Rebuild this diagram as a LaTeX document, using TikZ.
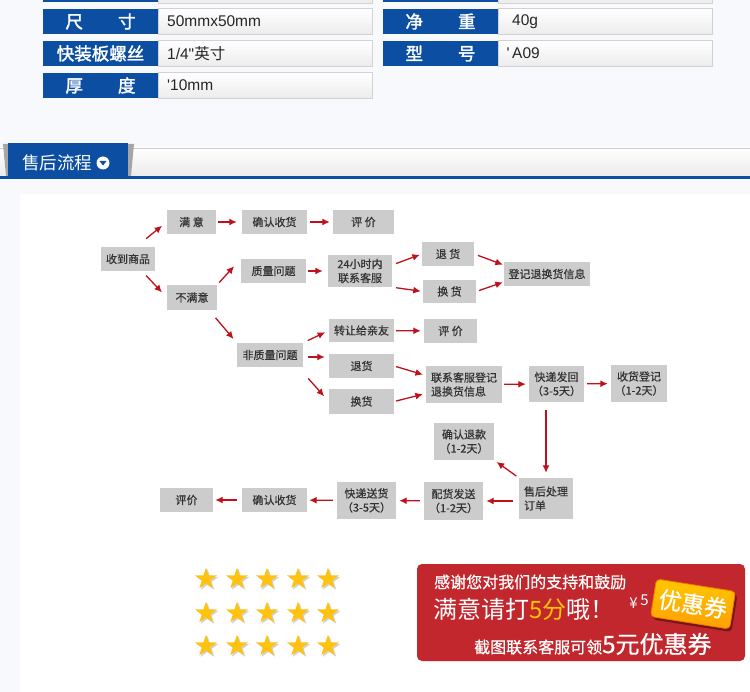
\documentclass[tikz,border=0pt]{standalone}
\usepackage{fontspec}
\setmainfont{Noto Sans CJK SC}
\newfontfamily\cjk{Noto Sans CJK SC}
\newfontfamily\cjkm[FakeBold=0.6]{Noto Sans CJK SC}
\newfontfamily\cjkb[FakeBold=1.8]{Noto Sans CJK SC}
\newfontfamily\lat{Liberation Sans}
\usetikzlibrary{arrows.meta,shapes.geometric,shadows}
\definecolor{pagec}{HTML}{F8F9FD}
\definecolor{tabc}{HTML}{0B4EA2}
\definecolor{valline}{HTML}{D2D2D2}
\definecolor{valbot}{HTML}{ECECEC}
\definecolor{boxc}{HTML}{CCCCCC}
\definecolor{inkc}{HTML}{333333}
\definecolor{linkc}{HTML}{C0111B}
\definecolor{starc}{HTML}{FFC20E}
\definecolor{bannerc}{HTML}{C1272D}
\definecolor{couponc}{HTML}{FFB000}
\definecolor{fivec}{HTML}{FFC600}
\tikzset{
  lab/.style={fill=tabc, text=white, font=\cjkb\fontsize{17.5}{18}\selectfont, minimum width=115pt, minimum height=25pt, inner sep=0pt},
  val/.style={draw=valline, top color=white, bottom color=valbot, anchor=west, minimum height=26pt, text width=196pt, inner xsep=9pt, inner ysep=0pt, align=left, text=black!85, font=\lat\fontsize{15.5}{16}\selectfont},
  box/.style={fill=boxc, text=inkc, inner sep=0pt, align=center, font=\cjkm\fontsize{11}{14}\selectfont},
  link/.style={draw=linkc, line width=1.3pt, -{Latex[length=7.5pt,width=7pt]}},
  star5/.style={star, star points=5, star point ratio=2.6, minimum size=23pt, inner sep=0pt, fill=starc, drop shadow={shadow xshift=1.5pt, shadow yshift=-1.5pt, fill=black, opacity=0.18}},
  coupon/.style={rounded corners=4pt, top color=couponc!70!yellow, bottom color=couponc!90!red, draw=orange!90!red, line width=0.8pt, minimum width=80pt, minimum height=38pt, text=white, font=\cjkm\fontsize{23}{24}\selectfont, drop shadow={shadow xshift=2pt, shadow yshift=-3pt, fill=black, opacity=0.4}},
  bantext/.style={anchor=west, inner sep=0pt, text=white},
}

\begin{document}
\begin{tikzpicture}[x=1pt,y=-1pt]
\useasboundingbox (0,0) rectangle (750,692);
\fill[pagec] (0,0) rectangle (750,692);

% spec table
\node[lab] (l0a) at (100.5,-10) {};
\node[val] (v0a) at (158,-10) {};
\node[lab] (l0b) at (440.5,-10) {};
\node[val, text width=186pt, inner xsep=14pt] (v0b) at (498,-10) {};
\node[lab] (lsize) at (100.5,21.5) {尺　　寸};
\node[val] (vsize) at (158,21.5) {50mmx50mm};
\node[lab] (lscrew) at (100.5,53.5) {快装板螺丝};
\node[val] (vscrew) at (158,53.5) {1/4"{\cjk 英寸}};
\node[lab] (lthick) at (100.5,85.5) {厚　　度};
\node[val] (vthick) at (158,85.5) {\raisebox{-4pt}{'10mm}};
\node[lab] (lweight) at (440.5,21.5) {净　　重};
\node[val, text width=186pt, inner xsep=14pt] (vweight) at (498,21.5) {40g};
\node[lab] (lmodel) at (440.5,53.5) {型　　号};
\node[val, text width=186pt, inner xsep=14pt] (vmodel) at (498,53.5) {\llap{'\,}A09};

% section header
\shade[top color=white, bottom color=black!8] (0,148) rectangle (750,176);
\draw[black!20] (0,148.5) -- (750,148.5);
\fill[black!35] (3,144) -- (8,144) -- (8,176) -- (6,176) -- cycle;
\fill[black!35] (128,144) -- (134,144) -- (131,176) -- (128,176) -- cycle;
\fill[tabc] (8,143) rectangle (128,176);
\node[bantext, font=\cjk\fontsize{17.5}{18}\selectfont] (title) at (22,162.5) {售后流程};
\fill[white] (103,163) circle (6.5);
\fill[tabc] (99.5,161) -- (106.5,161) -- (103,165.5) -- cycle;
\fill[tabc] (0,176) rectangle (750,179);
\fill[white] (20,194) rectangle (750,692);

% flow boxes
\node[box, minimum width=54pt, minimum height=24pt] (shou) at (128,259) {收到商品};
\node[box, minimum width=49pt, minimum height=24pt] (manyi) at (191.5,222) {满 意};
\node[box, minimum width=65pt, minimum height=24pt] (queren1) at (274.5,222) {确认收货};
\node[box, minimum width=61pt, minimum height=24pt] (pingjia1) at (363.5,222) {评 价};
\node[box, minimum width=50pt, minimum height=25pt] (buman) at (192,297.5) {不满意};
\node[box, minimum width=65pt, minimum height=24pt] (zhiliang) at (273.5,271) {质量问题};
\node[box, minimum width=64pt, minimum height=32pt] (kefu24) at (360,271) {24小时内\\联系客服};
\node[box, minimum width=52pt, minimum height=24pt] (tuihuo1) at (448,254) {退 货};
\node[box, minimum width=53pt, minimum height=23pt] (huanhuo1) at (449.5,291.5) {换 货};
\node[box, minimum width=86pt, minimum height=24pt] (dengji) at (547,274) {登记退换货信息};
\node[box, minimum width=66pt, minimum height=24pt] (feizhi) at (270,355) {非质量问题};
\node[box, minimum width=65pt, minimum height=23pt] (zhuanrang) at (361.5,330.5) {转让给亲友};
\node[box, minimum width=53pt, minimum height=24pt] (pingjia2) at (450.5,331) {评 价};
\node[box, minimum width=65pt, minimum height=24pt] (tuihuo2) at (361.5,366) {退货};
\node[box, minimum width=65pt, minimum height=25pt] (huanhuo2) at (361.5,401.5) {换货};
\node[box, minimum width=76pt, minimum height=37pt, align=left] (lianxi) at (464,384.5) {联系客服登记\\退换货信息};
\node[box, minimum width=55pt, minimum height=36pt] (kuaidi) at (556.5,384) {快递发回\\（3-5天）};
\node[box, minimum width=56pt, minimum height=37pt] (shouhuo) at (639,383.5) {收货登记\\（1-2天）};
\node[box, minimum width=60pt, minimum height=37pt] (tuikuan) at (464,441.5) {确认退款\\（1-2天）};
\node[box, minimum width=54pt, minimum height=41pt, align=left] (shouhou) at (546,498.5) {售后处理\\订单};
\node[box, minimum width=59pt, minimum height=38pt] (peihuo) at (453.5,501) {配货发送\\（1-2天）};
\node[box, minimum width=59pt, minimum height=37pt] (songhuo) at (366.5,500.5) {快递送货\\（3-5天）};
\node[box, minimum width=65pt, minimum height=24pt] (queren2) at (274.5,500) {确认收货};
\node[box, minimum width=53pt, minimum height=24pt] (pingjia3) at (186.5,500) {评价};

% flow arrows
\draw[link, shorten <=13pt, shorten >=6pt] ([xshift=8pt]shou.north) -- (manyi.west);
\draw[link, shorten <=6pt, shorten >=7pt] ([xshift=14pt]shou.south) -- (buman.west);
\draw[link, shorten <=2pt, shorten >=5pt] (manyi) -- (queren1);
\draw[link, shorten <=3pt, shorten >=3pt] (queren1) -- (pingjia1);
\draw[link, shorten <=3pt, shorten >=10pt] (buman.north east) -- (zhiliang.north west);
\draw[link, shorten <=2pt, shorten >=5pt] (zhiliang) -- (kefu24);
\draw[link, shorten <=4pt, shorten >=2pt] ([yshift=6pt]kefu24.east) -- (tuihuo1.west);
\draw[link, shorten <=4pt, shorten >=2pt] (kefu24.south east) -- (huanhuo1.west);
\draw[link, shorten <=4pt, shorten >=1pt] (tuihuo1.east) -- ([yshift=9pt]dengji.west);
\draw[link, shorten <=3pt, shorten >=1pt] (huanhuo1.east) -- ([yshift=-8pt]dengji.west);
\draw[link, shorten <=10pt, shorten >=5pt] ([xshift=17pt]buman.south) -- (feizhi.north west);
\draw[link, shorten <=5pt, shorten >=4pt] (feizhi.north east) -- (zhuanrang.west);
\draw[link, shorten <=5pt, shorten >=4pt] ([yshift=-2pt]feizhi.east) -- ([yshift=9pt]tuihuo2.west);
\draw[link, shorten <=15pt, shorten >=7pt] ([xshift=-5pt]feizhi.south east) -- (huanhuo2.west);
\draw[link, shorten <=2pt, shorten >=3pt] (zhuanrang) -- (pingjia2);
\draw[link, shorten <=2pt, shorten >=3pt] (tuihuo2.east) -- ([yshift=9pt]lianxi.west);
\draw[link, shorten <=2pt, shorten >=3pt] (huanhuo2.east) -- ([yshift=-9pt]lianxi.west);
\draw[link, shorten <=2pt, shorten >=3pt] (lianxi) -- (kuaidi);
\draw[link, shorten <=3pt, shorten >=3pt] (kuaidi) -- (shouhuo);
\draw[link, shorten <=8pt, shorten >=5pt] (kuaidi.south -| shouhou.north) -- (shouhou.north);
\draw[link, shorten <=3pt, shorten >=3pt] (shouhou.north west) -- (tuikuan.south east);
\draw[link, shorten <=6pt, shorten >=3pt] (shouhou.west |- peihuo) -- (peihuo);
\draw[link, shorten <=4pt, shorten >=3pt] (peihuo) -- (songhuo);
\draw[link, shorten <=4pt, shorten >=2pt] (songhuo) -- (queren2);
\draw[link, shorten <=5pt, shorten >=2pt] (queren2) -- (pingjia3);

% stars
\node[star5] (st11) at (206,579) {};
\node[star5] (st12) at (237,579) {};
\node[star5] (st13) at (267,579) {};
\node[star5] (st14) at (298,579) {};
\node[star5] (st15) at (328,579) {};
\node[star5] (st21) at (206,613) {};
\node[star5] (st22) at (237,613) {};
\node[star5] (st23) at (267,613) {};
\node[star5] (st24) at (298,613) {};
\node[star5] (st25) at (328,613) {};
\node[star5] (st31) at (206,646) {};
\node[star5] (st32) at (237,646) {};
\node[star5] (st33) at (267,646) {};
\node[star5] (st34) at (298,646) {};
\node[star5] (st35) at (328,646) {};

% banner
\fill[bannerc, rounded corners=5pt] (417,564) rectangle (745,661);
\node[bantext, font=\cjkm\fontsize{16}{18}\selectfont] (thanks) at (434,582) {感谢您对我们的支持和鼓励};
\node[bantext, font=\cjk\fontsize{24}{26}\selectfont] (ask) at (433,609) {满意请打\textcolor{fivec}{5分}哦！};
\node[text=white, inner sep=0pt, font=\cjk\fontsize{15}{16}\selectfont] (yen) at (639,602) {¥\,\raisebox{3pt}{5}};
\node[coupon, rotate=-9] (quan) at (693,604) {优惠券};
\node[bantext, font=\cjkm\fontsize{16}{18}\selectfont] (screen) at (474,644) {截图联系客服可领{\fontsize{24}{26}\selectfont 5元优惠券}};
\end{tikzpicture}
\end{document}
